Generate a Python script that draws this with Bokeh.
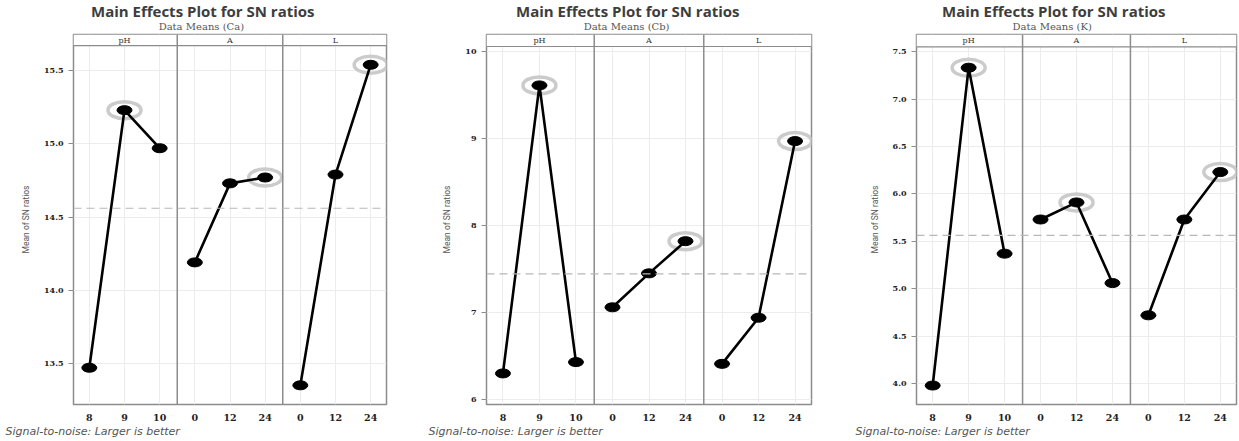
import numpy as np
from bokeh.plotting import figure
from bokeh.layouts import row
from bokeh.models import Span, Title, FixedTicker, NumeralTickFormatter
from bokeh.core.properties import value
from bokeh.embed import file_html
from bokeh.resources import INLINE

# ---- data ----
factors = ["pH", "A", "L"]
level_labels = ["8", "9", "10", "0", "12", "24", "0", "12", "24"]
level_pos = [1, 2, 3, 4, 5, 6, 7, 8, 9]

ca_sn = [13.47, 15.23, 14.97, 14.19, 14.73, 14.77, 13.35, 14.79, 15.54]
cb_sn = [6.30, 9.61, 6.43, 7.06, 7.45, 7.82, 6.41, 6.94, 8.97]
k_sn = [3.98, 7.33, 5.37, 5.73, 5.91, 5.06, 4.72, 5.73, 6.23]

ca_ticks = [13.5, 14.0, 14.5, 15.0, 15.5]
cb_ticks = [6, 7, 8, 9, 10]
k_ticks = [4.0, 4.5, 5.0, 5.5, 6.0, 6.5, 7.0, 7.5]

subtitles = ["Data Means (Ca)", "Data Means (Cb)", "Data Means (K)"]
title_text = "Main Effects Plot for SN ratios"
footer_text = "Signal-to-noise: Larger is better"
ylabel_text = "Mean of SN ratios"

FRAME_H = 370
TOP = 34
TITLE_W = 223.0          # approx. rendered width of the title text
SUB_CHAR_W = 5.85        # approx. width per character of the subtitle


def make_panel(vals, yticks, fmt, yr, strip_bottom, left, frame_w, right, title_cx, footer_x, subtitle):
    p = figure(frame_width=frame_w, frame_height=FRAME_H,
               min_border_left=left, min_border_right=right,
               min_border_top=TOP, min_border_bottom=441 - TOP - FRAME_H,
               x_range=(0.55, 9.45), y_range=yr, title=None,
               output_backend="svg", toolbar_location=None)
    p.background_fill_color = "white"
    p.border_fill_color = "white"
    p.outline_line_color = "#8c8c8c"
    p.outline_line_width = 1.5

    # grids
    p.xgrid.ticker = FixedTicker(ticks=level_pos)
    p.ygrid.ticker = FixedTicker(ticks=yticks)
    p.xgrid.grid_line_color = "#ececec"
    p.ygrid.grid_line_color = "#ececec"

    # x axis
    xa = p.xaxis[0]
    xa.ticker = FixedTicker(ticks=level_pos)
    xa.major_label_overrides = {pos: lab for pos, lab in zip(level_pos, level_labels)}
    xa.axis_line_color = None
    xa.major_tick_line_color = None
    xa.minor_tick_line_color = None
    xa.major_label_standoff = 3
    xa.major_label_text_font = "DejaVu Serif"
    xa.major_label_text_font_style = "bold"
    xa.major_label_text_font_size = "9.5px"
    xa.major_label_text_color = "#222222"

    # y axis
    ya = p.yaxis[0]
    ya.ticker = FixedTicker(ticks=yticks)
    ya.formatter = NumeralTickFormatter(format=fmt)
    ya.axis_line_color = None
    ya.major_tick_out = 5
    ya.major_tick_in = 0
    ya.major_tick_line_color = "#8c8c8c"
    ya.minor_tick_line_color = None
    ya.major_label_standoff = 5
    ya.major_label_text_font = "DejaVu Serif"
    ya.major_label_text_font_style = "bold"
    ya.major_label_text_font_size = "8px"
    ya.major_label_text_color = "#222222"
    ya.axis_label = ylabel_text
    ya.axis_label_text_font = "Roboto"
    ya.axis_label_text_font_style = "normal"
    ya.axis_label_text_font_size = "8.5px"
    ya.axis_label_text_color = "#555555"
    ya.axis_label_standoff = 10

    # strip header
    p.quad(left=[0.55], right=[9.45], bottom=[strip_bottom], top=[yr[1]],
           fill_color="white", line_color=None)
    p.add_layout(Span(location=strip_bottom, dimension="width",
                      line_color="#8c8c8c", line_width=1.2))
    for d in (3.5, 6.5):
        p.add_layout(Span(location=d, dimension="height",
                          line_color="#8c8c8c", line_width=1.5))
    p.text(x=[2, 5, 8], y=[(strip_bottom + yr[1]) / 2] * 3, text=factors,
           text_font=value("DejaVu Serif"), text_font_size="8px",
           text_align="center", text_baseline="middle", text_color="#333333")

    # mean line
    p.add_layout(Span(location=float(np.mean(vals)), dimension="width",
                      line_color="#b8b8b8", line_dash="8 5", line_width=1.2))

    # rings for best level in each factor
    for k in range(3):
        seg_x = level_pos[3 * k:3 * k + 3]
        seg_y = vals[3 * k:3 * k + 3]
        i = int(np.argmax(seg_y))
        p.ellipse(x=[seg_x[i]], y=[seg_y[i]], width=33, height=17,
                  width_units="screen", height_units="screen",
                  fill_color=None, line_color="#cbcbcb", line_width=3.5)
    for k in range(3):
        seg_x = level_pos[3 * k:3 * k + 3]
        seg_y = vals[3 * k:3 * k + 3]
        p.line(seg_x, seg_y, line_color="black", line_width=2.6)
    p.ellipse(x=level_pos, y=vals, width=15, height=9,
              width_units="screen", height_units="screen",
              fill_color="black", line_color="black")

    # titles (left aligned, offset from frame left so that they centre on title_cx)
    sub_w = SUB_CHAR_W * len(subtitle)
    p.add_layout(Title(text=subtitle, align="left", offset=title_cx - sub_w / 2 - left,
                       standoff=5,
                       text_font="DejaVu Serif", text_font_size="10px",
                       text_font_style="normal", text_color="#555555"), "above")
    p.add_layout(Title(text=title_text, align="left", offset=title_cx - TITLE_W / 2 - left,
                       standoff=-9,
                       text_font="Open Sans", text_font_size="15px",
                       text_font_style="bold", text_color="#3d3d3d"), "above")
    p.add_layout(Title(text=footer_text, align="left", offset=footer_x - left, standoff=-2,
                       text_font="DejaVu Sans", text_font_size="11px",
                       text_font_style="italic", text_color="#555555"), "below")
    return p


p1 = make_panel(ca_sn, ca_ticks, "0.0", (13.219, 15.747), 15.671,
                73, 313, 27, 202, 5, subtitles[0])
p2 = make_panel(cb_sn, cb_ticks, "0", (5.943, 10.195), 10.057,
                73, 325, 15, 214, 15, subtitles[1])
p3 = make_panel(k_sn, k_ticks, "0.0", (3.78, 7.68), 7.55,
                90, 320, 3, 227, 29, subtitles[2])

layout = row(p1, p2, p3, spacing=0)
open("out.html", "w").write(file_html(layout, INLINE))
